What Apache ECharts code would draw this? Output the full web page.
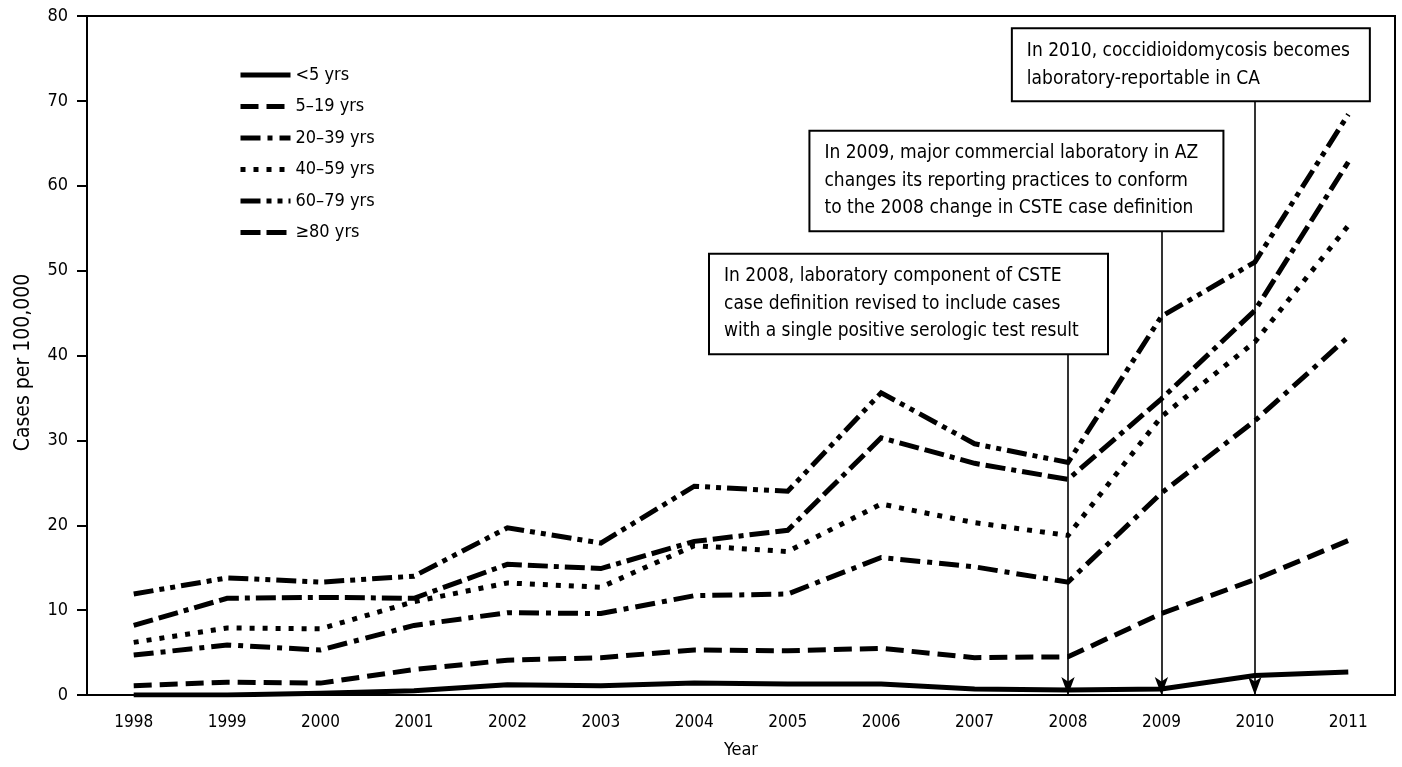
<!DOCTYPE html>
<html><head><meta charset="utf-8">
<script src="https://cdn.jsdelivr.net/npm/echarts@6/dist/echarts.min.js"></script>
<style>html,body{margin:0;padding:0;background:#fff}#c{width:1402px;height:767px}</style>
</head><body><div id="c"></div>
<script>
const years = ['1998','1999','2000','2001','2002','2003','2004','2005','2006','2007','2008','2009','2010','2011'];
const under5   = [0.0, 0.0, 0.2, 0.5, 1.2, 1.1, 1.4, 1.3, 1.3, 0.7, 0.6, 0.7, 2.3, 2.7];
const age5_19  = [1.1, 1.5, 1.4, 3.0, 4.1, 4.4, 5.3, 5.2, 5.5, 4.4, 4.5, 9.6, 13.6, 18.2];
const age20_39 = [4.7, 5.9, 5.3, 8.2, 9.7, 9.6, 11.7, 11.9, 16.2, 15.1, 13.3, 23.8, 32.3, 42.2];
const age40_59 = [6.2, 7.9, 7.8, 11.0, 13.2, 12.7, 17.6, 16.9, 22.5, 20.3, 18.8, 32.8, 41.6, 55.3];
const age60_79 = [11.9, 13.8, 13.3, 14.0, 19.7, 17.9, 24.6, 24.0, 35.6, 29.6, 27.4, 44.6, 51.0, 68.4];
const age80up  = [8.2, 11.4, 11.5, 11.4, 15.4, 14.9, 18.1, 19.4, 30.3, 27.3, 25.4, 34.9, 45.3, 62.8];
const seriesNames = ['<5 yrs','5–19 yrs','20–39 yrs','40–59 yrs','60–79 yrs','≥80 yrs'];
const yTicks = [0,10,20,30,40,50,60,70,80];
const notes = [
  {year:'2008', from:40.5, text:'In 2008, laboratory component of CSTE\ncase definition revised to include cases\nwith a single positive serologic test result'},
  {year:'2009', from:55.0, text:'In 2009, major commercial laboratory in AZ\nchanges its reporting practices to conform\nto the 2008 change in CSTE case definition'},
  {year:'2010', from:70.3, text:'In 2010, coccidioidomycosis becomes\nlaboratory-reportable in CA'}
];

const FONT = '"Liberation Sans Narrow", "DejaVu Sans Condensed", "Noto Sans", sans-serif';
const dashes = ['solid', [18,8], [20,7,5,7], [5,8], [20,6,5,6,5,6], [20,6,20,6,5,6]];
const datas = [under5, age5_19, age20_39, age40_59, age60_79, age80up];

const series = datas.map((d,i)=>({
  name: seriesNames[i], type:'line', data:d, symbol:'none', smooth:false,
  lineStyle:{color:'#000', width:5, type:dashes[i], cap:'butt', join:'miter'},
  itemStyle:{color:'#000'}, z: 3
}));
series.push({
  name:'notes', type:'line', data:[], symbol:'none',
  markLine:{
    silent:true, symbol:['none','arrow'], symbolSize:[10,18],
    lineStyle:{color:'#000', width:1.6, type:'solid'},
    label:{show:false},
    data: notes.map(n=>[{coord:[n.year, n.from]},{coord:[n.year, 0]}])
  }
});

const chart = echarts.init(document.getElementById('c'));
chart.setOption({
  animation:false,
  backgroundColor:'#fff',
  textStyle:{fontFamily:FONT},
  grid:{left:87, right:7, top:16, bottom:72, show:true, borderColor:'#000', borderWidth:2},
  legend:{
    data:seriesNames, orient:'vertical', left:233, top:61, itemWidth:50, itemHeight:14, itemGap:13.5,
    itemStyle:{opacity:0},
    lineStyle:{width:5, color:'#000', cap:'butt'},
    textStyle:{fontFamily:FONT, fontSize:18, color:'#000'}, selectedMode:false
  },
  xAxis:{
    type:'category', data:years, boundaryGap:true,
    name:'Year', nameLocation:'middle', nameGap:46, nameTextStyle:{fontFamily:FONT, fontSize:18, color:'#000'},
    axisLine:{lineStyle:{color:'#000', width:2}},
    axisTick:{alignWithLabel:true, length:10, lineStyle:{color:'#000', width:2}},
    axisLabel:{fontFamily:FONT, fontSize:17, color:'#000', margin:19}
  },
  yAxis:{
    type:'value', min:0, max:80, interval:10,
    name:'Cases per 100,000', nameLocation:'middle', nameGap:53, nameRotate:90,
    nameTextStyle:{fontFamily:FONT, fontSize:21, color:'#000', padding:[0,14,0,0]},
    axisLine:{show:true, lineStyle:{color:'#000', width:2}},
    axisTick:{show:true, length:10, lineStyle:{color:'#000', width:2}},
    splitLine:{show:false},
    axisLabel:{fontFamily:FONT, fontSize:18, color:'#000', margin:19,
      formatter:v=> yTicks.indexOf(v)>=0 ? String(v) : ''}
  },
  series:series
});

// annotation boxes placed relative to the arrow anchors
const boxW = [397, 412, 356];
const boxRightOfArrow = [37, 59, 112];
const els = notes.map((n,i)=>{
  const p = chart.convertToPixel({gridIndex:0}, [n.year, n.from]);
  const nLines = n.text.split('\n').length;
  const h = nLines*27.5 + 16;
  return {
    type:'text', z:50,
    left: p[0] + boxRightOfArrow[i] - boxW[i], top: p[1] - h,
    style:{
      text:n.text, font:'19px '+FONT, fill:'#000', lineHeight:27.5,
      backgroundColor:'#fff', borderColor:'#000', borderWidth:2,
      padding:[8, 10, 8, 14], width: boxW[i]-24, overflow:'none'
    }
  };
});
chart.setOption({graphic:els});
</script></body></html>
